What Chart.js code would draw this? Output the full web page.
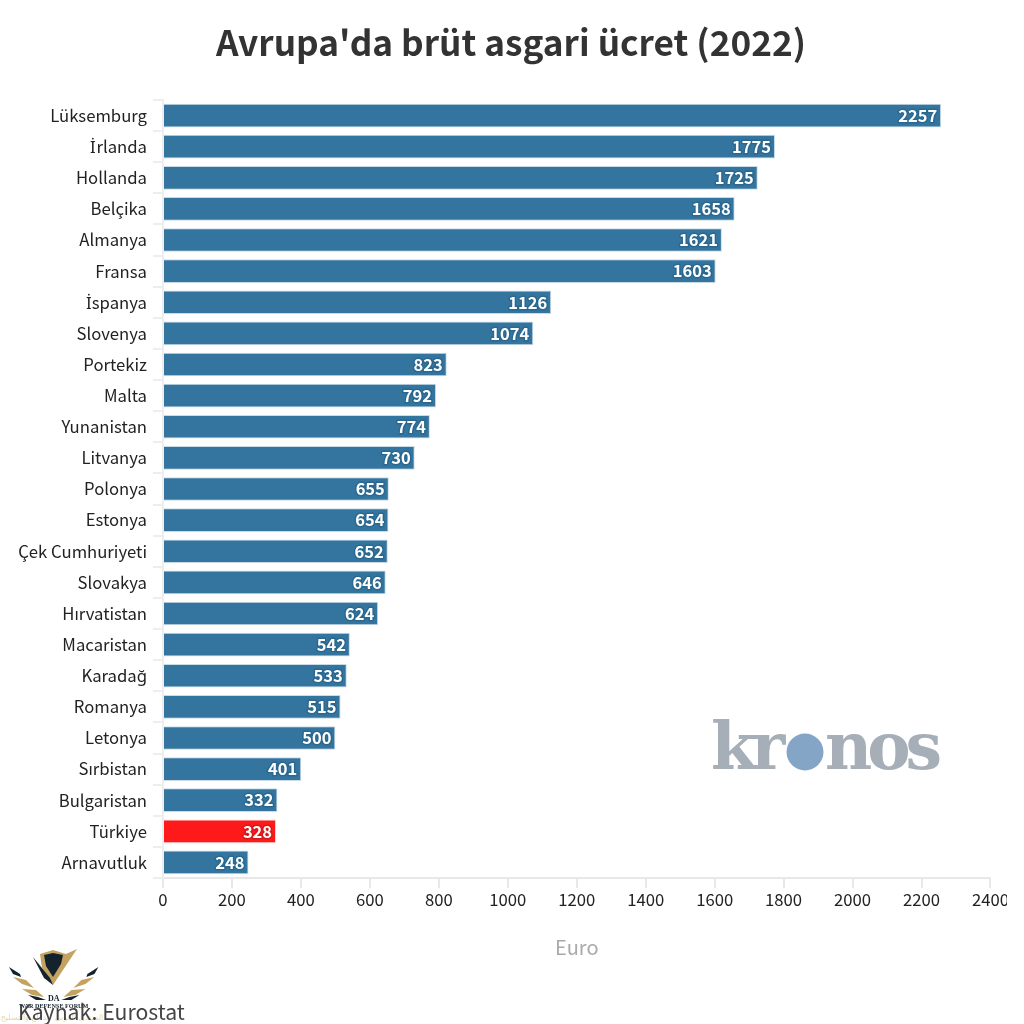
<!DOCTYPE html>
<html lang="tr">
<head>
<meta charset="utf-8">
<style>
    @font-face { font-family: "DotI"; src: local("Noto Sans"), local("NotoSans-Regular"); font-weight: 400; unicode-range: U+0130; }
    html, body { margin: 0; padding: 0; background: #fff; overflow: hidden; }
    #clip { width: 1007px; height: 1024px; overflow: hidden; }
    #wrap { width: 1011px; height: 1024px; position: relative; }
</style>
<script src="https://cdn.jsdelivr.net/npm/chart.js@4"></script>
</head>
<body>
<div id="clip"><div id="wrap"><canvas id="chart"></canvas></div></div>
<script>
const countries = ['Lüksemburg', 'İrlanda', 'Hollanda', 'Belçika', 'Almanya', 'Fransa', 'İspanya', 'Slovenya',
    'Portekiz', 'Malta', 'Yunanistan', 'Litvanya', 'Polonya', 'Estonya', 'Çek Cumhuriyeti', 'Slovakya',
    'Hırvatistan', 'Macaristan', 'Karadağ', 'Romanya', 'Letonya', 'Sırbistan', 'Bulgaristan', 'Türkiye', 'Arnavutluk'];
const wages = [2257, 1775, 1725, 1658, 1621, 1603, 1126, 1074, 823, 792, 774, 730, 655, 654, 652, 646, 624, 542, 533, 515, 500, 401, 332, 328, 248];
const highlighted = 'Türkiye';

const FONT = 'DotI, "Noto Sans CJK SC", "Noto Sans", sans-serif';
const BLUE = '#34759f';
const RED = '#fe1a1a';

// value labels inside the bar ends
const valueLabels = {
    id: 'valueLabels',
    afterDatasetsDraw(chart) {
        const ctx = chart.ctx;
        const bars = chart.getDatasetMeta(0).data;
        ctx.save();
        ctx.font = 'bold 16.5px ' + FONT;
        ctx.textAlign = 'right';
        ctx.textBaseline = 'middle';
        ctx.lineJoin = 'round';
        bars.forEach((bar, i) => {
            ctx.lineWidth = 3;
            ctx.strokeStyle = countries[i] === highlighted ? '#d91818' : '#2a6890';
            ctx.strokeText(wages[i], bar.x - 4, bar.y);
            ctx.fillStyle = '#fff';
            ctx.fillText(wages[i], bar.x - 4, bar.y);
        });
        ctx.restore();
    }
};

function poly(ctx, color, pts) {
    ctx.fillStyle = color;
    ctx.beginPath();
    pts.forEach(([x, y], i) => i ? ctx.lineTo(x, y) : ctx.moveTo(x, y));
    ctx.closePath();
    ctx.fill();
}

// title, kronos logo, forum stamp and source line
const decorations = {
    id: 'decorations',
    afterDraw(chart) {
        const ctx = chart.ctx;
        ctx.save();
        ctx.textBaseline = 'alphabetic';

        ctx.textAlign = 'center';
        ctx.font = 'bold 35.2px ' + FONT;
        ctx.fillStyle = '#333';
        ctx.fillText("Avrupa'da brüt asgari ücret (2022)", 511, 56);

        // kronos
        ctx.textAlign = 'left';
        ctx.font = 'bold 65px "DejaVu Serif", "Liberation Serif", serif';
        ctx.letterSpacing = '-5px';
        ctx.fillStyle = '#a6aeb8';
        ctx.fillText('kr', 711, 769);
        ctx.fillText('nos', 825, 769);
        ctx.letterSpacing = '0px';
        ctx.fillStyle = '#84a5c6';
        ctx.beginPath();
        ctx.arc(805, 752, 18.5, 0, Math.PI * 2);
        ctx.fill();

        // forum stamp
        const GOLD = '#c3a35f', DARK = '#14222e', MID = 53.7;
        poly(ctx, GOLD, [[40, 954], [53, 950], [66, 954], [77, 949], [53, 985], [42, 968]]);
        poly(ctx, DARK, [[44, 955], [53, 953], [63, 955], [61, 964], [53, 977], [46, 966]]);
        poly(ctx, DARK, [[33, 957], [50, 978], [53, 985], [44, 978]]);
        [1, -1].forEach(dir => {
            const mx = x => MID + dir * (x - MID);
            poly(ctx, DARK, [[9, 967], [20, 974], [21, 977], [13, 974]].map(([x, y]) => [mx(x), y]));
            poly(ctx, GOLD, [[13, 977], [26, 980], [34, 988], [22, 984]].map(([x, y]) => [mx(x), y]));
            poly(ctx, GOLD, [[22, 989], [36, 990], [44, 997], [32, 995]].map(([x, y]) => [mx(x), y]));
            poly(ctx, DARK, [[28, 995], [38, 997], [46, 1000], [36, 1000]].map(([x, y]) => [mx(x), y]));
        });
        ctx.fillStyle = DARK;
        ctx.textAlign = 'center';
        ctx.font = 'bold 8px "Liberation Serif", serif';
        ctx.fillText('DA', 53.7, 1001);
        ctx.font = 'bold 6.2px "Liberation Serif", serif';
        ctx.fillText('WAR DEFENSE FORUM', 53.7, 1008);
        ctx.font = '8px "DejaVu Sans", sans-serif';
        ctx.fillStyle = '#e6d5a8';
        ctx.fillText('المنتدى العربي للدفاع والتسليح', 52, 1020);

        // source
        ctx.textAlign = 'left';
        ctx.font = '21.2px ' + FONT;
        ctx.fillStyle = '#444';
        ctx.fillText('Kaynak: Eurostat', 18, 1020);
        ctx.restore();
    }
};

function draw() {
    new Chart(document.getElementById('chart').getContext('2d'), {
        type: 'bar',
        data: {
            labels: countries,
            datasets: [{
                data: wages,
                backgroundColor: countries.map(c => c === highlighted ? RED : BLUE),
                borderColor: countries.map(c => c === highlighted ? '#ffd9d9' : '#c9dbe7'),
                borderWidth: 1,
                barPercentage: 0.76,
                categoryPercentage: 1
            }]
        },
        options: {
            indexAxis: 'y',
            responsive: true,
            maintainAspectRatio: false,
            animation: false,
            layout: { padding: { top: 100, right: 7, bottom: 0, left: 0 } },
            plugins: {
                legend: { display: false },
                tooltip: { enabled: false }
            },
            scales: {
                x: {
                    min: 0,
                    max: 2400,
                    afterFit(scale) { scale.height = 146; },
                    ticks: {
                        stepSize: 200,
                        maxRotation: 0,
                        color: '#222',
                        padding: 2,
                        font: { family: FONT, size: 16.7 },
                        callback: v => String(v)
                    },
                    grid: { drawOnChartArea: false, color: '#e8e8e8', lineWidth: 2, tickLength: 10 },
                    border: { color: '#e8e8e8', width: 2 },
                    title: {
                        display: true,
                        text: 'Euro',
                        color: '#aaa',
                        font: { family: FONT, size: 20 },
                        padding: { top: 18, bottom: 65 }
                    }
                },
                y: {
                    afterFit(scale) { scale.width = 163; },
                    ticks: {
                        autoSkip: false,
                        color: '#222',
                        padding: 6,
                        font: { family: FONT, size: 16.7 }
                    },
                    grid: { drawOnChartArea: false, color: '#eeeeee', lineWidth: 2, tickLength: 10 },
                    border: { color: '#eeeeee', width: 2 }
                }
            }
        },
        plugins: [valueLabels, decorations]
    });
}

// the canvas only sees the dotted capital once its face is loaded
document.fonts.load('17px DotI', 'İ').then(draw, draw);
</script>
</body>
</html>
